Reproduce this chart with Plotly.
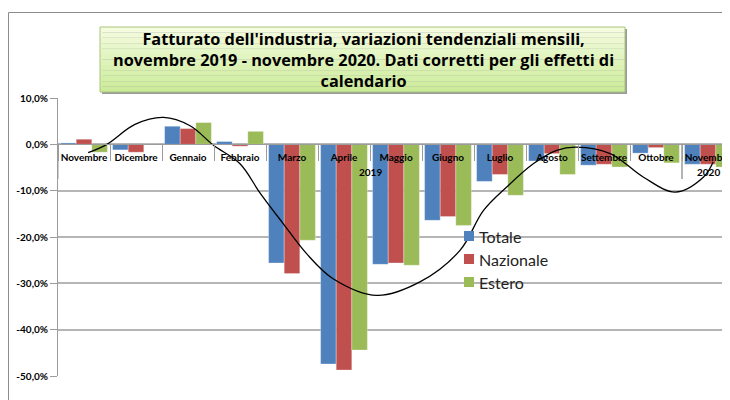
import plotly.graph_objects as go

# dati (variazioni tendenziali, %)
mesi = ["Novembre", "Dicembre", "Gennaio", "Febbraio", "Marzo", "Aprile", "Maggio",
        "Giugno", "Luglio", "Agosto", "Settembre", "Ottobre", "Novembre"]
anni = ["2019"] * 12 + ["2020"]
totale = [0.3, -1.2, 3.9, 0.6, -25.6, -47.4, -25.9, -16.4, -8.0, -3.6, -4.5, -1.9, -4.3]
nazionale = [1.1, -1.7, 3.4, -0.4, -27.9, -48.7, -25.6, -15.6, -6.5, -2.0, -4.3, -0.7, -4.3]
estero = [-1.7, 0.0, 4.7, 2.8, -20.7, -44.4, -26.1, -17.5, -11.0, -6.5, -4.9, -4.0, -4.9]

# linea di tendenza (posizione in categorie)
tend_x = [0.08, 0.44, 0.98, 1.53, 2.04, 2.49, 3.0, 3.38, 3.83, 4.28, 4.79, 5.63,
          6.46, 7.23, 7.68, 8.13, 8.64, 9.09, 9.47, 10.12, 10.76, 11.37, 11.91, 12.1]
tend_y = [-1.8, 0.0, 4.3, 5.8, 4.0, -0.2, -4.2, -10.4, -17.1, -23.6, -29.0, -32.6,
          -29.7, -22.9, -14.3, -9.2, -4.2, -1.3, -0.6, -2.0, -7.1, -10.3, -7.1, -3.8]

y_tickvals = [10, 0, -10, -20, -30, -40, -50]
y_ticktext = ["10,0%", "0,0%", "-10,0%", "-20,0%", "-30,0%", "-40,0%", "-50,0%"]

serie = ["Totale", "Nazionale", "Estero"]
colori = ["#4f81bd", "#c0504d", "#9bbb59"]

titolo = ("Fatturato dell'industria, variazioni tendenziali mensili,<br>"
          "novembre 2019 - novembre 2020. Dati corretti per gli effetti di<br>"
          "calendario")

# la pagina ha un margine di 8px intorno al grafico
OFF = 8
W, H = 730 - OFF, 400 - OFF
PL, PR, PT, PB = 58, 730, 98, 376   # coordinate sullo schermo
FONT = "Lato"
AXC = "#9c9c9c"


def px(x):
    return (x - PL) / (PR - PL)


def py(y):
    return (PB - y) / (PB - PT)


pos = list(range(len(mesi)))
x_range = [-0.5, -0.5 + (PR - PL) / 52]

fig = go.Figure()

for nome, valori, col in zip(serie, [totale, nazionale, estero], colori):
    fig.add_trace(go.Bar(
        x=pos, y=valori, name=nome, showlegend=False,
        marker=dict(color=col, line=dict(width=0.6, color="rgba(255,255,255,0.5)")),
    ))

fig.add_trace(go.Scatter(
    x=tend_x, y=tend_y, mode="lines", showlegend=False,
    line=dict(color="black", width=1.3, shape="spline", smoothing=1.0),
))

shapes = []
annotations = []
# bordo esterno dell'area grafico
shapes.append(dict(type="rect", xref="paper", yref="paper",
                   x0=px(8.5), x1=px(760), y0=py(430), y1=py(12.5),
                   line=dict(color="#8c8c8c", width=1), fillcolor="rgba(0,0,0,0)", layer="below"))
# riquadro del titolo (ombra + sfumatura)
bx0, bx1, by0, by1 = 100, 625, 27, 92
shapes.append(dict(type="rect", xref="paper", yref="paper",
                   x0=px(bx0 + 2), x1=px(bx1 + 2), y0=py(by1 + 2), y1=py(by0 + 2),
                   line=dict(width=0), fillcolor="#9a9a9a"))
n = 12
c0 = (244, 251, 222)
c1 = (204, 236, 156)
for i in range(n):
    t = i / (n - 1)
    c = tuple(round(c0[k] + (c1[k] - c0[k]) * t) for k in range(3))
    ya = by0 + (by1 - by0) * i / n
    yb = by0 + (by1 - by0) * (i + 1) / n
    shapes.append(dict(type="rect", xref="paper", yref="paper",
                       x0=px(bx0), x1=px(bx1), y0=py(yb), y1=py(ya),
                       line=dict(width=0), fillcolor="rgb(%d,%d,%d)" % c))
shapes.append(dict(type="rect", xref="paper", yref="paper",
                   x0=px(bx0), x1=px(bx1), y0=py(by1), y1=py(by0),
                   line=dict(color="#a8c47a", width=1), fillcolor="rgba(0,0,0,0)"))

annotations.append(dict(
    xref="paper", yref="paper", x=px(363), y=py(60), xanchor="center", yanchor="middle",
    text="<b>" + titolo + "</b>", showarrow=False,
    font=dict(family="Open Sans", size=16.3, color="black"), align="center",
))

# anni sotto i mesi, con i separatori lunghi
for anno in dict.fromkeys(anni):
    idx = [i for i, a in enumerate(anni) if a == anno]
    annotations.append(dict(
        xref="x", yref="paper", x=sum(idx) / len(idx), y=py(172),
        xanchor="center", yanchor="middle", text="<b>" + anno + "</b>", showarrow=False,
        font=dict(family=FONT, size=10, color="black"),
    ))
    for b in (idx[0] - 0.5, idx[-1] + 0.5):
        shapes.append(dict(type="line", xref="x", yref="paper", x0=b, x1=b,
                           y0=py(144), y1=py(179), line=dict(color=AXC, width=1)))

# legenda disegnata a mano
for i, (nome, col) in enumerate(zip(serie, colori)):
    yc = 236 + 23 * i
    shapes.append(dict(type="rect", xref="paper", yref="paper",
                       x0=px(464), x1=px(474), y0=py(yc + 5), y1=py(yc - 5),
                       line=dict(width=0), fillcolor=col))
    annotations.append(dict(
        xref="paper", yref="paper", x=px(477), y=py(yc), xanchor="left", yanchor="middle",
        text=nome, showarrow=False, font=dict(family="Lato", size=16, color="#222"),
    ))

fig.update_layout(
    width=W, height=H,
    margin=dict(l=PL - OFF, r=W + OFF - PR, t=PT - OFF, b=H + OFF - PB, autoexpand=False),
    paper_bgcolor="white", plot_bgcolor="white",
    barmode="group", bargap=0.1, bargroupgap=0,
    shapes=shapes,
    annotations=annotations,
    xaxis=dict(
        range=x_range, anchor="free", position=py(144),
        tickmode="array", tickvals=pos, ticktext=mesi, tickangle=0,
        ticks="", ticklabelstandoff=4, ticklabeloverflow="allow",
        minor=dict(tickmode="array", tickvals=[p - 0.5 for p in pos] + [pos[-1] + 0.5],
                   ticks="outside", ticklen=16, tickcolor=AXC, showgrid=False),
        showline=True, linecolor=AXC, linewidth=1,
        tickfont=dict(family=FONT, size=10, color="black", weight="bold"),
        showgrid=False, zeroline=False, automargin=False,
    ),
    yaxis=dict(
        range=[-50, 10], tickvals=y_tickvals, ticktext=y_ticktext,
        showgrid=True, gridcolor="#b5b5b5", gridwidth=1.5, zeroline=False,
        showline=True, linecolor=AXC, linewidth=1,
        ticks="outside", ticklen=7, tickcolor=AXC,
        tickfont=dict(family=FONT, size=10, color="black", weight="bold"),
        automargin=False,
    ),
)

fig.write_html("out.html")
